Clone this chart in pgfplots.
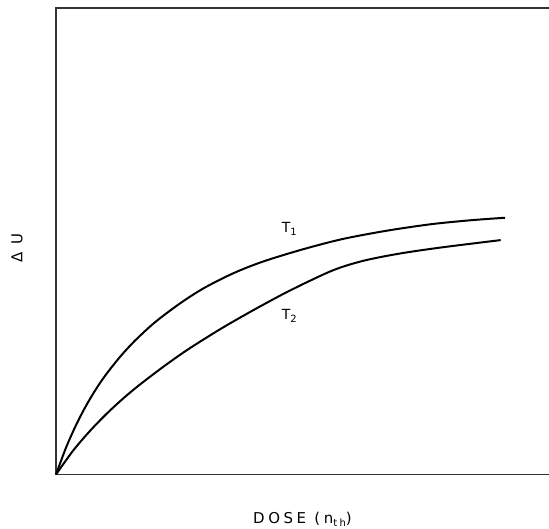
\documentclass[border=0pt]{standalone}
\usepackage{pgfplots}
\pgfplotsset{compat=1.18}
\usepackage{fontspec}
\setmainfont{DejaVu Sans}
\newfontfamily\lblfont[LetterSpace=24]{DejaVu Sans}
\begin{document}
\begin{tikzpicture}
\useasboundingbox (-56bp,-54.5bp) rectangle (493bp,474.5bp);
\begin{axis}[
  at={(0,0)}, anchor=south west,
  width=493bp, height=466bp, scale only axis,
  xmin=0, xmax=100, ymin=0, ymax=100,
  xtick=\empty, ytick=\empty,
  axis line style={draw=none},
  clip=false,
  xlabel={\lblfont DOSE (n\raisebox{-0.4ex}{\fontsize{10}{11}\selectfont th})},
  xlabel style={at={(axis description cs:0.5,0)}, anchor=center, yshift=-45bp, font=\fontsize{15}{17}\selectfont},
  ylabel={\lblfont Δ U},
  ylabel style={at={(axis description cs:0,0.486)}, anchor=center, yshift=39bp, font=\fontsize{15}{17}\selectfont},
]
\draw[line width=2pt, black!80] (axis description cs:1,1) -- (axis description cs:0,1) -- (axis description cs:0,0) -- (axis description cs:1,0);
% T1
\addplot[black, line width=2pt, smooth, tension=0.5] coordinates {
(0,0) (2,5.67) (4,10.46) (6,14.57) (8,18.13) (10,21.25) (13,25.26) (16,28.7) (20,32.6) (25,36.6) (30,40.0) (36,43.2) (42,45.7) (50,48.3) (58,50.5) (67,52.3) (76,53.7) (84,54.55) (91.1,55.1)
};
% T2
\addplot[black, line width=2pt, smooth, tension=0.5] coordinates {
(0,0) (3.38,5.0) (6.76,9.2) (10.14,12.9) (13.5,16.2) (16.9,19.2) (22,23.3) (27.0,27.0) (33.8,31.5) (40.6,35.6) (47.3,39.4) (54.8,43.2) (58.5,44.7) (62.5,45.9) (67,46.9) (72,47.8) (78,48.7) (84,49.5) (90.2,50.3)
};
\node[font=\fontsize{14}{16}\selectfont] at (axis cs:47.3,52.7) {T\raisebox{-0.45ex}{\fontsize{10}{11}\selectfont 1}};
\node[font=\fontsize{14}{16}\selectfont] at (axis cs:47.3,34.0) {T\raisebox{-0.45ex}{\fontsize{10}{11}\selectfont 2}};
\end{axis}
\end{tikzpicture}
\end{document}
